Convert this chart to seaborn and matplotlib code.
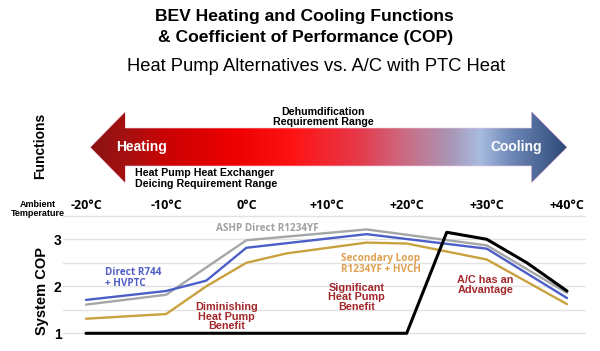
import numpy as np
import pandas as pd
import matplotlib
matplotlib.use('Agg')
import matplotlib.pyplot as plt
from matplotlib.colors import LinearSegmentedColormap
from matplotlib.patches import Polygon
import seaborn as sns

# ambient temperature (°C) and system COP for each alternative
temp_ac = [-20, 20, 25, 30, 35, 40]
cop_ac = [1.0, 1.0, 3.15, 3.0, 2.5, 1.9]

temp_ashp = [-20, -10, 0, 15, 30, 40]
cop_ashp = [1.61, 1.82, 2.98, 3.21, 2.87, 1.86]

temp_r744 = [-20, -10, -5, 0, 15, 30, 40]
cop_r744 = [1.71, 1.90, 2.12, 2.82, 3.11, 2.80, 1.75]

temp_loop = [-20, -10, -5, 0, 5, 15, 20, 30, 40]
cop_loop = [1.31, 1.41, 2.0, 2.5, 2.7, 2.93, 2.91, 2.57, 1.62]

temp_ticks = [-20, -10, 0, 10, 20, 30, 40]
temp_labels = ['-20°C', '-10°C', '0°C', '+10°C', '+20°C', '+30°C', '+40°C']
cop_ticks = [1, 1.5, 2, 2.5, 3, 3.5]
cop_labels = ['1', '', '2', '', '3', '']

sns.set_style('white')
plt.rcParams['font.family'] = ['Liberation Sans', 'DejaVu Sans']
plt.rcParams['text.color'] = 'black'
plt.rcParams['xtick.color'] = 'black'
plt.rcParams['ytick.color'] = 'black'

W, H = 600, 351
fig = plt.figure(figsize=(6, 3.51), dpi=100)

# overlay axes in pixel units for the function arrow and labels
deco = fig.add_axes([0, 0, 1, 1])
deco.set_xlim(0, W)
deco.set_ylim(H, 0)
deco.axis('off')

# gradient arrow: heating (red) to cooling (blue)
arrow_pts = [(90.7, 147.3), (125, 112.3), (125, 128.3), (531.7, 128.3), (531.7, 112),
             (566.7, 147.3), (531.7, 182.3), (531.7, 165.7), (125, 165.7), (125, 182.3)]
stops = [(0.0, '#8a1212'), (0.08, '#a81010'), (0.15, '#c80404'), (0.30, '#ee0000'),
         (0.42, '#ff1212'), (0.56, '#e63848'), (0.67, '#c87088'), (0.76, '#a898b8'),
         (0.82, '#a8bce0'), (0.89, '#6a84b4'), (0.95, '#4a6494'), (1.0, '#2e4a78')]
cmap = LinearSegmentedColormap.from_list('hc', stops)
poly = Polygon(arrow_pts, closed=True, facecolor='none', edgecolor='#f4c0dc', lw=0.8)
deco.add_patch(poly)
grad = np.linspace(0, 1, 256).reshape(1, -1)
im = deco.imshow(grad, cmap=cmap, aspect='auto', extent=[90, 567, 183, 111], zorder=1)
im.set_clip_path(poly)
deco.set_xlim(0, W)
deco.set_ylim(H, 0)

deco.text(116, 147.5, 'Heating', color='white', fontsize=10, fontweight='bold', va='center', zorder=3)
deco.text(542, 147.5, 'Cooling', color='white', fontsize=10, fontweight='bold', va='center', ha='right', zorder=3)
deco.text(323, 117, 'Dehumdification\nRequirement Range', fontsize=7.7, fontweight='bold',
          ha='center', va='center', linespacing=1.05)
deco.text(135, 178.5, 'Heat Pump Heat Exchanger\nDeicing Requirement Range', fontsize=7.7,
          fontweight='bold', ha='left', va='center', linespacing=1.05)
deco.text(40, 145.5, 'Functions', rotation=90, fontsize=10, fontweight='bold', ha='center', va='center')
deco.text(38, 209, 'Ambient\nTemperature', fontsize=6.5, fontweight='bold', ha='center', va='center',
          linespacing=0.9)
deco.text(41.7, 291, 'System COP', rotation=90, fontsize=10.5, fontweight='bold', ha='center', va='center')

fig.text(304.5 / W, 1 - 16.7 / H, 'BEV Heating and Cooling Functions', fontsize=12.6,
         fontweight='bold', ha='center', va='center')
fig.text(306 / W, 1 - 37.8 / H, '& Coefficient of Performance (COP)', fontsize=12.6,
         fontweight='bold', ha='center', va='center')
fig.text(316 / W, 1 - 66.7 / H, 'Heat Pump Alternatives vs. A/C with PTC Heat', fontsize=13.2,
         ha='center', va='center')

# COP chart
ax = fig.add_axes([63 / W, 1 - 340 / H, 523 / W, 127 / H])
ax.patch.set_alpha(0)
sns.lineplot(x=temp_loop, y=cop_loop, ax=ax, color='#c9a13e', lw=1.7)
sns.lineplot(x=temp_ashp, y=cop_ashp, ax=ax, color='#a3a7a8', lw=1.7)
sns.lineplot(x=temp_r744, y=cop_r744, ax=ax, color='#4c5ec8', lw=1.7)
sns.lineplot(x=temp_ac, y=cop_ac, ax=ax, color='black', lw=2.2)

ax.set_xlim(-22.87, 42.37)
ax.set_ylim(0.857, 3.56)
ax.set_yticks(cop_ticks)
ax.set_yticklabels(cop_labels, fontsize=10, fontweight='bold')
ax.set_xticks(temp_ticks)
ax.set_xticklabels(temp_labels, fontsize=9, fontweight='bold', family=['Open Sans', 'DejaVu Sans'])
ax.xaxis.tick_top()
ax.tick_params(axis='both', length=0)
ax.tick_params(axis='x', pad=0.5)
ax.tick_params(axis='y', pad=1)
ax.yaxis.grid(True, color='#e2e2e2', lw=1)
ax.xaxis.grid(False)
ax.set_axisbelow(True)
for s in ax.spines.values():
    s.set_visible(False)
ax.set_xlabel('')
ax.set_ylabel('')

red = '#a3282c'
ax.text(2.6, 3.24, 'ASHP Direct R1234YF', color='#a0a0a0', fontsize=7.2, fontweight='bold',
        ha='center', va='center', family=['Open Sans', 'DejaVu Sans'])
ax.text(-17.6, 2.18, 'Direct R744\n+ HVPTC', color='#5060c8', fontsize=7.2, fontweight='bold',
        ha='left', va='center', linespacing=1.0, family=['Open Sans', 'DejaVu Sans'])
ax.text(-2.46, 1.35, 'Diminishing\nHeat Pump\nBenefit', color=red, fontsize=7.8, fontweight='bold',
        ha='center', va='center', linespacing=0.95)
ax.text(16.8, 2.48, 'Secondary Loop\nR1234YF + HVCH', color='#e0a050', fontsize=7.2, fontweight='bold',
        ha='center', va='center', linespacing=1.0, family=['Open Sans', 'DejaVu Sans'])
ax.text(13.75, 1.77, 'Significant\nHeat Pump\nBenefit', color=red, fontsize=7.8, fontweight='bold',
        ha='center', va='center', linespacing=0.95)
ax.text(29.8, 2.02, 'A/C has an\nAdvantage', color=red, fontsize=7.8, fontweight='bold',
        ha='center', va='center', linespacing=1.0)

fig.savefig('out.png', dpi=100)
